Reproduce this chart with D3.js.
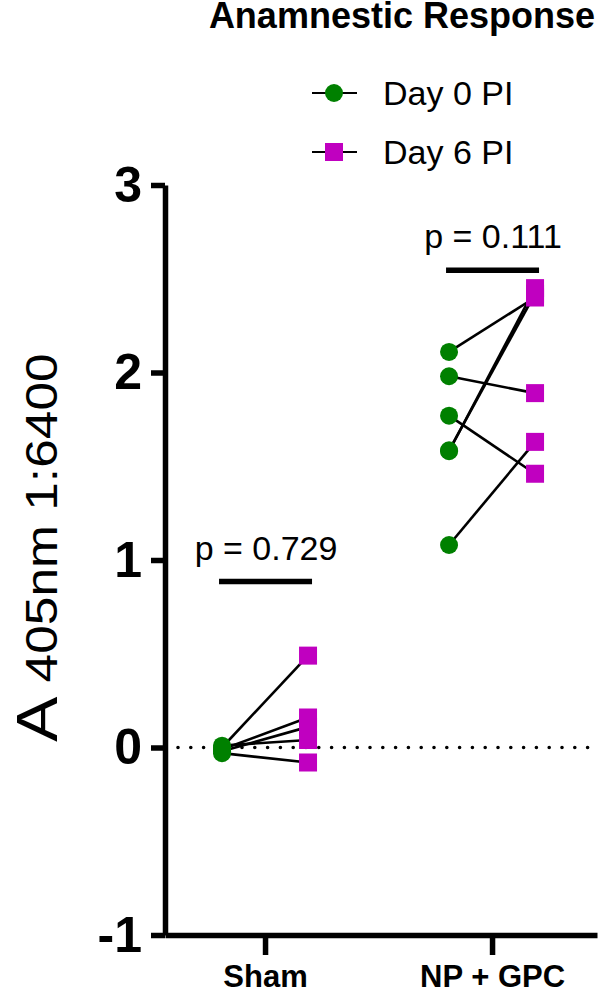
<!DOCTYPE html>
<html>
<head>
<meta charset="UTF-8">
<title>Anamnestic Response</title>
<style>
  body { margin: 0; background: #fff; }
  svg { display: block; }
  text { font-family: "Liberation Sans", Arial, Helvetica, sans-serif; fill: #000; }
</style>
</head>
<body>
<svg id="chart"></svg>
<script src="https://d3js.org/d3.v7.min.js"></script>
<script>
// groups and timepoints
var groups = ['Sham', 'NP + GPC'];
var days = ['Day 0 PI', 'Day 6 PI'];

// paired values per animal (A405nm, 1:6400)
var shamDay0 = [0.00, -0.01, -0.02, 0.01, -0.03];
var shamDay6 = [0.49, 0.16, 0.11, 0.04, -0.08];
var npDay0 = [2.11, 1.98, 1.77, 1.58, 1.585, 1.08];
var npDay6 = [2.40, 1.89, 1.46, 2.45, 2.42, 1.63];

// paired test results
var pLabels = ['p = 0.729', 'p = 0.111'];
var sigLevels = [0.885, 2.545];

var yTicks = [-1, 0, 1, 2, 3];

var W = 600, H = 991;
var green = '#008000', magenta = '#c000c0';

var svg = d3.select('#chart').attr('width', W).attr('height', H);

var y = d3.scaleLinear().domain([-1, 3]).range([935, 185]);
var x = d3.scalePoint().domain(groups).range([165, 597]).padding(0.4515).align(0.488);
var dx = d3.scalePoint().domain(days).range([-43, 43]);

var pairs = [];
shamDay0.forEach(function (v, i) { pairs.push({ g: 'Sham', a: v, b: shamDay6[i] }); });
npDay0.forEach(function (v, i) { pairs.push({ g: 'NP + GPC', a: v, b: npDay6[i] }); });

// title
svg.append('text')
  .attr('x', 595).attr('y', 28)
  .attr('text-anchor', 'end')
  .style('font-size', '36px').style('font-weight', 'bold')
  .text('Anamnestic Response');

// zero reference line
svg.append('line')
  .attr('x1', 178).attr('x2', 592)
  .attr('y1', y(0)).attr('y2', y(0))
  .attr('stroke', '#000').attr('stroke-width', 3.6)
  .attr('stroke-linecap', 'round')
  .attr('stroke-dasharray', '0 12.8');

// y axis
var yAxis = svg.append('g')
  .attr('transform', 'translate(165,0)')
  .call(d3.axisLeft(y).tickValues(yTicks).tickFormat(function (d) { return String(d); })
    .tickSize(14).tickSizeOuter(0).tickPadding(9));
yAxis.select('.domain').attr('stroke-width', 5.5);
yAxis.selectAll('.tick line').attr('stroke-width', 5.5);
yAxis.selectAll('.tick text')
  .style('font-size', '50px').style('font-weight', 'bold')
  .style('font-family', '"Liberation Sans", Arial, sans-serif');

// x axis
var xAxis = svg.append('g')
  .attr('transform', 'translate(0,935)')
  .call(d3.axisBottom(x).tickSize(20).tickSizeOuter(0));
xAxis.select('.domain').attr('stroke-width', 5.5);
xAxis.selectAll('.tick line').attr('stroke-width', 5.5);
xAxis.selectAll('.tick text')
  .attr('y', 52).attr('dy', 0)
  .style('font-size', '31px').style('font-weight', 'bold')
  .style('font-family', '"Liberation Sans", Arial, sans-serif');

// y axis title (stretched along its length like the original)
var yTitle = svg.append('text')
  .attr('transform', 'translate(57,742) rotate(-90) scale(1.17,1)')
  .attr('text-anchor', 'start');
yTitle.append('tspan').style('font-size', '58px').text('A');
yTitle.append('tspan').style('font-size', '44px').text(' 405nm 1:6400');

// connecting lines
svg.append('g').selectAll('line').data(pairs).enter().append('line')
  .attr('x1', function (d) { return x(d.g) + dx(days[0]); })
  .attr('x2', function (d) { return x(d.g) + dx(days[1]); })
  .attr('y1', function (d) { return y(d.a); })
  .attr('y2', function (d) { return y(d.b); })
  .attr('stroke', '#000').attr('stroke-width', 2.6);

// day 0 circles
svg.append('g').selectAll('circle').data(pairs).enter().append('circle')
  .attr('cx', function (d) { return x(d.g) + dx(days[0]); })
  .attr('cy', function (d) { return y(d.a); })
  .attr('r', 9)
  .attr('fill', green);

// day 6 squares
svg.append('g').selectAll('rect').data(pairs).enter().append('rect')
  .attr('x', function (d) { return x(d.g) + dx(days[1]) - 9; })
  .attr('y', function (d) { return y(d.b) - 9; })
  .attr('width', 18).attr('height', 18)
  .attr('fill', magenta);

// significance bars
var sig = svg.append('g').selectAll('g').data(groups).enter().append('g');
sig.append('line')
  .attr('x1', function (d) { return x(d) - 46; })
  .attr('x2', function (d) { return x(d) + 47; })
  .attr('y1', function (d, i) { return y(sigLevels[i]); })
  .attr('y2', function (d, i) { return y(sigLevels[i]); })
  .attr('stroke', '#000').attr('stroke-width', 5.5);
sig.append('text')
  .attr('x', function (d) { return x(d) + 1; })
  .attr('y', function (d, i) { return y(sigLevels[i]) - 22; })
  .attr('text-anchor', 'middle')
  .style('font-size', '34px')
  .text(function (d, i) { return pLabels[i]; });

// legend
var legend = svg.append('g').selectAll('g').data(days).enter().append('g')
  .attr('transform', function (d, i) { return 'translate(0,' + (93 + i * 59) + ')'; });
legend.append('line')
  .attr('x1', 312).attr('x2', 357)
  .attr('stroke', '#000').attr('stroke-width', 2.2);
legend.filter(function (d, i) { return i === 0; }).append('circle')
  .attr('cx', 334).attr('r', 9).attr('fill', green);
legend.filter(function (d, i) { return i === 1; }).append('rect')
  .attr('x', 325).attr('y', -9).attr('width', 18).attr('height', 18).attr('fill', magenta);
legend.append('text')
  .attr('x', 383).attr('y', 12)
  .style('font-size', '34px')
  .text(function (d) { return d; });
</script>
</body>
</html>
